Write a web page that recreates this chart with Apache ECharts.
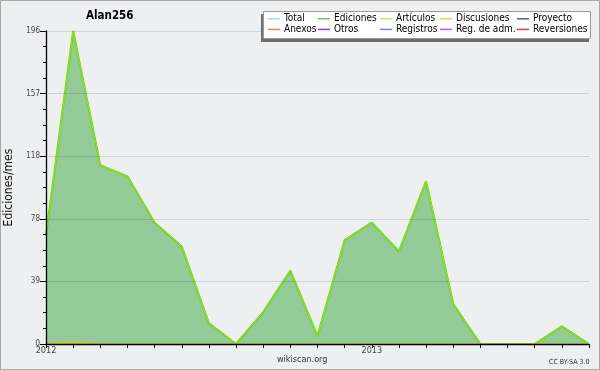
<!DOCTYPE html>
<html><head><meta charset="utf-8">
<script src="https://cdn.jsdelivr.net/npm/echarts@6/dist/echarts.min.js"></script>
<style>html,body{margin:0;padding:0;background:#eeeff1;}#c{width:600px;height:370px;}</style>
</head><body><div id="c"></div>
<script>
const months = ['2012-01','2012-02','2012-03','2012-04','2012-05','2012-06','2012-07','2012-08','2012-09','2012-10','2012-11','2012-12','2013-01','2013-02','2013-03','2013-04','2013-05','2013-06','2013-07','2013-08','2013-09'];
const total       = [68,196,112,105,76,61,13,0,20,46,5,65,76,58,102,25,0,0,0,11,0];
const ediciones   = [68,196,112,105,76,61,13,0,20,46,5,65,76,58,102,25,0,0,0,11,0];
const articulos   = [68,196,112,105,76,61,13,0,20,46,5,65,76,58,102,25,0,0,0,11,0];
const discusiones = [0,1,0,0,0,0,0,0,0,0,0,0,0,0,0,0,0,0,0,0,0];
const yTicks = [0,39,78,118,157,196];
const legendNames = ['Total','Ediciones','Artículos','Discusiones','Proyecto','Anexos','Otros','Registros','Reg. de adm.','Reversiones'];
const legendColors = ['#a8e2de','#74c274','#c6ee52','#f8cc50','#606060','#f08050','#9040d0','#8080f0','#d050e0','#e04040'];

const FONT = "'DejaVu Sans Condensed','DejaVu Sans',sans-serif";
const chart = echarts.init(document.getElementById('c'), null, {renderer:'canvas'});

const emptySeries = legendNames.slice(4).map((n,i)=>({
  name:n, type:'line', data:[], itemStyle:{color:legendColors[i+4]}
}));

const colLeft = [268,318,380,440,517];
const legends = colLeft.map((x,i)=>({
  orient:'vertical', left:x, top:13.5, itemGap:0, itemWidth:12, itemHeight:1.5,
  icon:'rect', padding:0, selectedMode:false, z:80,
  textStyle:{fontFamily:FONT,fontSize:10,color:'#000',lineHeight:10.6,padding:[0,0,0,-1]},
  data:[{name:legendNames[i],itemStyle:{color:legendColors[i]}},{name:legendNames[i+5],itemStyle:{color:legendColors[i+5]}}]
}));

const yMax = yTicks[yTicks.length-1];
chart.setOption({
  backgroundColor:'#eeeff1',
  animation:false,
  grid:{left:46,right:11,top:31,bottom:26,outerBoundsMode:'none',containLabel:false},
  legend:legends,
  graphic:[
    {type:'rect',shape:{x:0.5,y:0.5,width:599,height:369},style:{fill:'none',stroke:'#a8a8a8',lineWidth:1},z:100},
    {type:'rect',shape:{x:261,y:14,width:328,height:28},style:{fill:'#6e6e6e'},z:50},
    {type:'rect',shape:{x:263.5,y:11.5,width:327,height:27},style:{fill:'#ffffff',stroke:'#9a9a9a',lineWidth:1},z:51},
    {type:'text',left:86,top:10,style:{text:'Alan256',font:"bold 11.5px "+FONT,fill:'#000'},z:60},
    {type:'text',left:277,top:355,style:{text:'wikiscan.org',font:"9px "+FONT,fill:'#333'},z:60},
    {type:'text',left:549,top:359,style:{text:'CC BY-SA 3.0',font:"7px "+FONT,fill:'#333'},z:60}
  ],
  xAxis:{
    type:'category', data:months, boundaryGap:false, z:10,
    axisLine:{lineStyle:{color:'#000',width:1.3}},
    axisTick:{show:true,interval:0,length:4,lineStyle:{color:'#000',width:1}},
    axisLabel:{interval:0,margin:2,fontFamily:FONT,fontSize:9,color:'#444',
      formatter:v=>v.endsWith('-01')?v.slice(0,4):''},
    splitLine:{show:false}
  },
  yAxis:{
    type:'value', min:0, max:yMax, interval:yMax/5, z:10,
    name:'Ediciones/mes', nameLocation:'middle', nameGap:28, nameRotate:90,
    nameTextStyle:{fontFamily:FONT,fontSize:12,color:'#111'},
    axisLine:{show:true,lineStyle:{color:'#000',width:1.3}},
    axisTick:{show:true,length:6,lineStyle:{color:'#000'}},
    minorTick:{show:true,splitNumber:4,length:3,lineStyle:{color:'#000'}},
    axisLabel:{margin:6,fontFamily:FONT,fontSize:8,color:'#444',
      formatter:v=>String(Math.round(v))},
    splitLine:{show:true,lineStyle:{color:'rgba(0,0,0,0.12)',width:1}}
  },
  series:[
    {name:'Total',type:'line',data:total,showSymbol:false,itemStyle:{color:legendColors[0]},lineStyle:{width:1,color:legendColors[0]}},
    {name:'Ediciones',type:'line',data:ediciones,showSymbol:false,itemStyle:{color:legendColors[1]},
      lineStyle:{width:2,color:'#66c828'},areaStyle:{color:'#92cb98',opacity:1}},
    {name:'Artículos',type:'line',data:articulos,showSymbol:false,itemStyle:{color:legendColors[2]},lineStyle:{width:1,color:'#90f000'}},
    {name:'Discusiones',type:'line',data:discusiones,showSymbol:false,smooth:true,itemStyle:{color:legendColors[3]},lineStyle:{width:1.2,color:'#f0c400'}}
  ].concat(emptySeries)
});
</script></body></html>
